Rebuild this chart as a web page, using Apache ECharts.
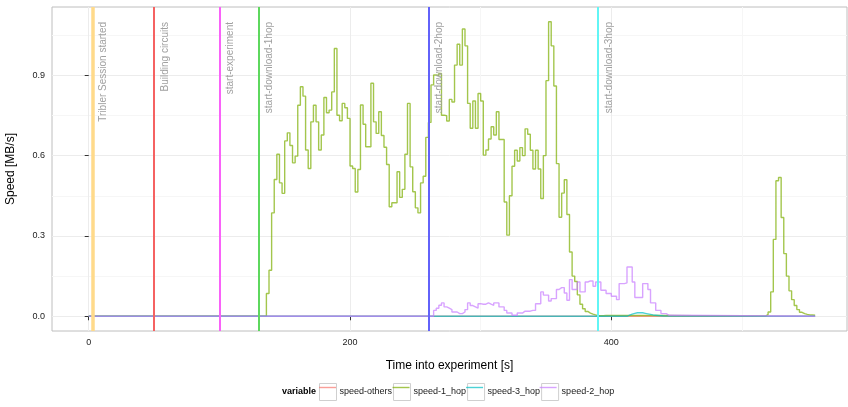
<!DOCTYPE html>
<html><head><meta charset="utf-8">
<script src="https://cdn.jsdelivr.net/npm/echarts@6/dist/echarts.min.js"></script>
<style>html,body{margin:0;padding:0;background:#fff}#c{width:848px;height:407px}</style>
</head><body><div id="c"></div>
<script>
// ---- data ----
const seriesNames = ['speed-others', 'speed-1_hop', 'speed-3_hop', 'speed-2_hop'];
const seriesColors = ['#F8766D', '#7CAE00', '#00BFC4', '#C77CFF'];
const sampleStep = 2;            // seconds between samples
const experimentEnd = 556;

const hop1Start = 134;
const hop1Speed = [0, 0.085, 0.172, 0.386, 0.511, 0.605, 0.498, 0.459, 0.655, 0.685, 0.638, 0.573, 0.598, 0.788, 0.857, 0.822, 0.621, 0.552, 0.726, 0.788, 0.726, 0.621, 0.677, 0.817, 0.760, 0.770, 0.838, 1.0, 0.751, 0.730, 0.795, 0.779, 0.739, 0.561, 0.552, 0.464, 0.548, 0.789, 0.717, 0.633, 0.633, 0.870, 0.726, 0.683, 0.764, 0.675, 0.631, 0.567, 0.409, 0.424, 0.424, 0.540, 0.444, 0.474, 0.605, 0.795, 0.558, 0.465, 0.405, 0.386, 0.498, 0.523, 0.668, 0.724, 0.864, 0.901, 0.899, 0.907, 0.751, 0.749, 0.729, 0.81, 0.80, 0.938, 1.016, 0.938, 1.073, 1.010, 0.795, 0.702, 0.804, 0.702, 0.832, 0.804, 0.602, 0.621, 0.662, 0.708, 0.677, 0.764, 0.66, 0.66, 0.427, 0.303, 0.45, 0.56, 0.62, 0.58, 0.63, 0.60, 0.70, 0.68, 0.62, 0.55, 0.62, 0.55, 0.44, 0.60, 0.88, 1.10, 1.01, 0.86, 0.57, 0.37, 0.46, 0.51, 0.38, 0.24, 0.15, 0.13, 0.08, 0.045, 0.028, 0.018, 0.012, 0.008, 0.005, 0.003, 0.002, 0.002, 0.003, 0.003, 0.003, 0.003, 0.003, 0.003, 0.003, 0.003, 0.003, 0.003, 0.003, 0.003, 0.003, 0.003, 0.003, 0.003, 0.003, 0.003, 0.003, 0.003, 0.003, 0.003, 0];
const hop1SpikeStart = 516;
const hop1Spike = [0, 0.007, 0.016, 0.091, 0.287, 0.506, 0.518, 0.369, 0.234, 0.150, 0.095, 0.062, 0.040, 0.025, 0.015, 0.010, 0.007, 0.005, 0.005, 0.004, 0.004];

const hop2Start = 262;
const hop2Speed = [0, 0.022, 0.03, 0.041, 0.050, 0.035, 0.03, 0.025, 0.016, 0.016, 0.010, 0.010, 0.016, 0.025, 0.050, 0.040, 0.035, 0.03, 0.047, 0.045, 0.045, 0.050, 0.045, 0.041, 0.050, 0.050, 0.035, 0.035, 0.022, 0.012, 0.012, 0.004, 0.004, 0.012, 0.012, 0.019, 0.019, 0.019, 0.022, 0.022, 0.047, 0.047, 0.091, 0.079, 0.079, 0.057, 0.066, 0.066, 0.100, 0.107, 0.107, 0.087, 0.060, 0.137, 0.100, 0.100, 0.128, 0.091, 0.091, 0.128, 0.132, 0.132, 0.112, 0.128, 0.128, 0.097, 0.097, 0.085, 0.085, 0.075, 0.075, 0.062, 0.122, 0.122, 0.125, 0.184, 0.184, 0.128, 0.07, 0.07, 0.07, 0.122, 0.122, 0.10, 0.05, 0.05, 0.022, 0.022, 0.010, 0.010, 0.004, 0.004, 0];

const hop3Start = 410;
const hop3Speed = [0, 0.004, 0.008, 0.011, 0.013, 0.013, 0.013, 0.011, 0.009, 0.007, 0.005, 0.004, 0.003, 0.002, 0.001, 0];

const eventTimes = [3, 50, 100, 130, 260, 390];
const eventLabels = ['Tribler Session started', 'Building circuits', 'start-experiment', 'start-download-1hop', 'start-download-2hop', 'start-download-3hop'];
const eventColors = ['#FFDA8A', '#F56262', '#F962F9', '#5ED85E', '#6262FA', '#62F5F5'];
const eventWidths = [3.5, 2, 2, 2, 2, 2];

const xMajorTicks = [0, 200, 400];
const xMinorTicks = [100, 300, 500];
const yMajorTicks = [0, 0.3, 0.6, 0.9];
const yMinorTicks = [0.15, 0.45, 0.75, 1.05];
const xRange = [-28.1, 580.4];
const yRange = [-0.055, 1.155];

// ---- build step points ----
function buildPoints(segments) {
  const pts = [[0, 0]];
  segments.forEach(([start, vals]) => {
    vals.forEach((v, i) => pts.push([start + i * sampleStep, v]));
  });
  const last = pts[pts.length - 1];
  if (last[0] < experimentEnd) pts.push([experimentEnd, last[1]]);
  return pts;
}
const seriesData = [
  buildPoints([]),
  buildPoints([[hop1Start, hop1Speed], [hop1SpikeStart, hop1Spike]]),
  buildPoints([[hop3Start, hop3Speed]]),
  buildPoints([[hop2Start, hop2Speed]])
];

const FONT = 'Liberation Sans';
const chart = echarts.init(document.getElementById('c'), null, {renderer: 'canvas'});

const series = seriesNames.map((name, i) => ({
  name: name,
  type: 'line',
  step: 'end',
  symbol: 'none',
  silent: true,
  animation: false,
  xAxisIndex: 0, yAxisIndex: 0,
  itemStyle: {color: seriesColors[i]},
  lineStyle: {color: seriesColors[i], width: 1.4, opacity: 0.7},
  emphasis: {disabled: true},
  data: seriesData[i]
}));
series[3].markLine = {
  symbol: 'none',
  silent: true,
  animation: false,
  data: eventTimes.map((t, i) => ({
    xAxis: t,
    lineStyle: {color: eventColors[i], width: eventWidths[i], type: 'solid', opacity: 1},
    label: {
      show: true, formatter: eventLabels[i], position: 'insideEndBottom',
      distance: [15, 6], color: '#A0A0A0', fontSize: 10, fontFamily: FONT
    }
  }))
};

const legendCommon = {
  orient: 'horizontal', left: 319, top: 383, padding: 0,
  itemWidth: 17, itemHeight: 17, itemGap: 1,
  selectedMode: false,
  data: seriesNames,
  textStyle: {fontSize: 9, fontFamily: FONT, color: '#1a1a1a', padding: [0, 0, 0, -2]}
};

chart.setOption({
  animation: false,
  textStyle: {fontFamily: FONT},
  grid: {left: 52, right: 1, top: 7, bottom: 76, show: true, borderColor: '#BEBEBE', borderWidth: 1,
         backgroundColor: '#fff', containLabel: false, outerBoundsMode: 'none'},
  xAxis: [{
    type: 'value', min: xRange[0], max: xRange[1], position: 'bottom',
    name: 'Time into experiment [s]', nameLocation: 'middle', nameGap: 29,
    nameTextStyle: {fontSize: 12, color: '#000', fontFamily: FONT},
    axisLine: {show: false},
    axisTick: {show: true, customValues: xMajorTicks, length: 4, lineStyle: {color: '#333'}},
    axisLabel: {customValues: xMajorTicks, fontSize: 9, color: '#222', margin: 7, fontFamily: FONT},
    splitLine: {show: true, lineStyle: {color: '#ECECEC', width: 1}}
  }, {
    type: 'value', min: xRange[0], max: xRange[1], position: 'top',
    axisLine: {show: false},
    axisTick: {show: false, customValues: xMinorTicks},
    axisLabel: {show: false, customValues: xMinorTicks},
    splitLine: {show: true, lineStyle: {color: '#F6F6F6', width: 1}}
  }],
  yAxis: [{
    type: 'value', min: yRange[0], max: yRange[1], position: 'left',
    name: 'Speed [MB/s]', nameLocation: 'middle', nameGap: 35, nameRotate: 90,
    nameTextStyle: {fontSize: 12, color: '#000', fontFamily: FONT},
    axisLine: {show: false},
    axisTick: {show: true, customValues: yMajorTicks, length: 4, lineStyle: {color: '#333'}},
    axisLabel: {customValues: yMajorTicks, fontSize: 9, color: '#222', margin: 7, fontFamily: FONT,
                formatter: v => Number(v).toFixed(1)},
    splitLine: {show: true, lineStyle: {color: '#ECECEC', width: 1}}
  }, {
    type: 'value', min: yRange[0], max: yRange[1], position: 'right',
    axisLine: {show: false},
    axisTick: {show: false, customValues: yMinorTicks},
    axisLabel: {show: false, customValues: yMinorTicks},
    splitLine: {show: true, lineStyle: {color: '#F6F6F6', width: 1}}
  }],
  legend: [
    Object.assign({}, legendCommon, {
      z: 4, icon: 'rect',
      itemStyle: {color: '#fff', borderColor: '#CFCFCF', borderWidth: 1, opacity: 1}
    }),
    Object.assign({}, legendCommon, {
      z: 5, icon: 'path://M0,0H17V1.4H0Z',
      itemStyle: {borderWidth: 0, opacity: 0.7},
      textStyle: Object.assign({}, legendCommon.textStyle, {color: 'rgba(0,0,0,0)'})
    })
  ],
  graphic: [{
    type: 'text', left: 282, top: 387,
    style: {text: 'variable', fontSize: 9, fontWeight: 'bold', fontFamily: FONT, fill: '#000'}
  }],
  series: series
});
</script>
</body></html>
